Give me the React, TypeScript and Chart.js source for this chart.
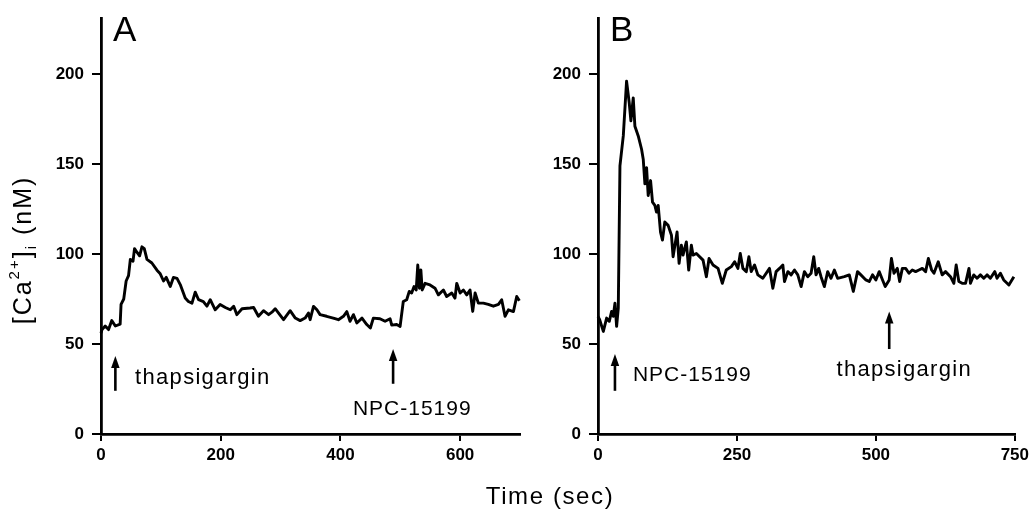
import React, { useEffect, useRef } from "react";
import { Chart, registerables } from "chart.js";

Chart.register(...registerables);

// ---------- data ----------
const timeA = [0, 1.7, 7, 12.6, 18, 24, 32, 33.5, 38, 42, 46, 49, 53.5, 56, 60, 64.5, 68.4, 72.3, 76.8, 85, 93.5, 99, 104.5, 109, 115.7, 121, 127, 132.4, 140.7, 146, 152, 157.4, 163, 171, 177, 182.5, 190.8, 199, 207.7, 216, 221.7, 227, 235.6, 249, 255, 263, 271.5, 280, 285.6, 291, 296.7, 305, 316, 324.6, 332.7, 341, 346.6, 349.4, 355, 360.7, 366, 377, 388, 396.6, 405, 410.7, 416, 421.7, 427.4, 436, 444, 450, 455, 466, 474.6, 483, 485.7, 494, 499.7, 505, 510.7, 515, 519, 523, 526.6, 529.2, 532, 534.4, 536.6, 541.4, 549.7, 558, 563.6, 572, 577.5, 586, 591.4, 594.3, 600, 605.4, 611, 616.5, 621, 625, 630.4, 638.8, 647, 655.5, 664, 669.4, 675, 680.6, 689, 694.5, 699];
const caA = [56, 58, 60, 58, 63, 60, 61, 72, 75, 85, 88, 97, 96, 103, 101, 99, 104, 103, 97, 95, 91, 89, 85, 87, 82, 87, 86.5, 83, 75.5, 73.6, 72.7, 78.8, 74.6, 73.6, 71, 74.6, 69, 72, 70.3, 69, 71, 66.3, 69.6, 70, 70.3, 65.4, 68.5, 66.3, 67.7, 69.6, 67.2, 63.5, 68.5, 64.4, 63, 64.4, 67.2, 63.5, 70.9, 69, 66.3, 65.4, 64.4, 63.5, 65.4, 68, 62.6, 66.3, 61.7, 64.4, 60.8, 58.9, 64.4, 64, 62.6, 64, 60.5, 60.8, 59.8, 73.6, 74.6, 79.2, 78.3, 81.9, 80, 93.9, 81, 91.1, 80, 83.7, 82.8, 81, 77.3, 80, 76.4, 78.3, 75.5, 83.7, 78.3, 80, 77.3, 80, 68.1, 78.3, 72.7, 72.7, 72, 71, 72, 74.6, 65.4, 69, 68, 76.4, 74];

const timeB = [0, 3, 9.6, 15.5, 20.3, 24.5, 27.5, 30.5, 33.5, 36.5, 39.5, 45.5, 51.4, 56.2, 59.2, 63.4, 66.4, 72.4, 78.4, 81.4, 84.4, 87.4, 90.3, 94.6, 98.1, 102.3, 105.3, 108.3, 112.5, 116, 120.2, 126.2, 132.2, 135.1, 139.9, 142.3, 145.9, 150, 153, 159, 163.2, 168, 171, 177, 189, 195, 199.8, 207, 216, 223.7, 230.8, 239.9, 245.8, 251.8, 256, 260.8, 266.8, 271.5, 275.7, 281.7, 287.6, 296.6, 308.6, 314.6, 320.5, 326.6, 332.6, 335.6, 341.6, 347.5, 353.5, 359.5, 365.5, 371.4, 377.4, 383.4, 388.2, 392.3, 397.1, 401.3, 407.3, 413.3, 419.3, 425.3, 431.2, 443.2, 452.2, 459.4, 467, 473, 482, 488, 494, 500, 506, 512, 516.8, 524, 528, 532.6, 538.6, 542.8, 547.6, 553.6, 559.5, 565.5, 571.5, 577.5, 583.5, 589.5, 594.4, 600.3, 604.5, 612.2, 619.3, 625.3, 634.3, 640.3, 644.5, 649.3, 655.3, 661.3, 667.5, 670.2, 676.2, 682.1, 688.1, 694.1, 700, 706, 714, 718, 724, 730, 739.3, 748.3];
const caB = [65.4, 63.5, 57, 64.4, 62.6, 68.1, 65.4, 72.7, 59.8, 70, 149, 165.6, 196, 184, 174, 186.7, 171, 165.6, 158.2, 152.7, 139, 148, 132.5, 140.8, 128.8, 127, 123.3, 127, 112.2, 107.7, 117.8, 115.9, 110.4, 98.5, 107.7, 112.2, 94.8, 104.9, 99.4, 106.7, 91.1, 104.9, 99.4, 100.3, 96.6, 87.4, 97.5, 93.9, 92, 83.7, 91.1, 93, 95.7, 92, 100.3, 92, 90.2, 98.5, 90.2, 93.9, 88.4, 86.5, 92, 81, 90.2, 92, 93.9, 84.7, 90.2, 88.4, 91.1, 88.4, 81.9, 90.2, 87.4, 89.3, 98.5, 88.4, 92, 87.4, 81.9, 90.2, 86.5, 91.1, 86.5, 87.4, 88.4, 79.2, 90.2, 88.4, 85.6, 84.7, 88.4, 85.6, 90.2, 85.6, 81.9, 85.6, 97.5, 89.3, 92, 84.7, 92, 92, 89.3, 91.1, 90.2, 91.1, 92, 90.2, 97.5, 91.1, 89.3, 95.7, 88.4, 90.2, 87.4, 83.7, 93.9, 84.7, 83.7, 83.7, 92, 83.7, 88.4, 86.5, 88.4, 86.5, 88.4, 86.5, 90.2, 86.5, 89.3, 85.6, 82.8, 87.4];

const xTicksA = [0, 200, 400, 600];
const xTicksB = [0, 250, 500, 750];
const yTicks = [0, 50, 100, 150, 200];
const xMaxA = 700;
const xMaxB = 750;
const yMax = 231;

// annotations: arrow at time x, spanning Ca values from..to ; labels
const arrowsA = [
  { x: 24, from: 24, to: 43.3 },
  { x: 488, from: 27.9, to: 47.2 },
];
const labelsA = [
  { text: "thapsigargin", x: 57, y: 27.9, align: "left" as CanvasTextAlign, size: 22, spacing: 1.3 },
  { text: "NPC-15199", x: 520, y: 10.5, align: "center" as CanvasTextAlign, size: 21, spacing: 1 },
];
const arrowsB = [
  { x: 30.5, from: 24, to: 44.4 },
  { x: 524, from: 47.2, to: 68.1 },
];
const labelsB = [
  { text: "NPC-15199", x: 62.8, y: 29.5, align: "left" as CanvasTextAlign, size: 21, spacing: 1 },
  { text: "thapsigargin", x: 551, y: 32.3, align: "center" as CanvasTextAlign, size: 22, spacing: 1.3 },
];

const FONT = "'Liberation Sans', Arial, Helvetica, sans-serif";

function drawArrow(ctx: CanvasRenderingContext2D, x: number, yBottom: number, yTop: number) {
  const headH = 12;
  const headW = 8.5;
  ctx.save();
  ctx.strokeStyle = "#000";
  ctx.fillStyle = "#000";
  ctx.lineWidth = 2.6;
  ctx.beginPath();
  ctx.moveTo(x, yBottom);
  ctx.lineTo(x, yTop + headH - 1);
  ctx.stroke();
  ctx.beginPath();
  ctx.moveTo(x, yTop);
  ctx.lineTo(x - headW / 2, yTop + headH);
  ctx.lineTo(x + headW / 2, yTop + headH);
  ctx.closePath();
  ctx.fill();
  ctx.restore();
}

function makePanelPlugin(
  id: string,
  letter: string,
  arrows: { x: number; from: number; to: number }[],
  labels: { text: string; x: number; y: number; align: CanvasTextAlign; size: number; spacing: number }[],
  global: boolean
) {
  return {
    id,
    afterDraw(chart: any) {
      const ctx: CanvasRenderingContext2D = chart.ctx;
      const xs = chart.scales.x;
      const ys = chart.scales.y;
      const area = chart.chartArea;
      ctx.save();
      ctx.fillStyle = "#000";
      ctx.textBaseline = "alphabetic";
      // panel letter
      ctx.font = `35px ${FONT}`;
      ctx.textAlign = "left";
      ctx.fillText(letter, area.left + 12, area.top + 23);
      // arrows
      arrows.forEach((a) => {
        drawArrow(ctx, xs.getPixelForValue(a.x), ys.getPixelForValue(a.from), ys.getPixelForValue(a.to));
      });
      // labels
      labels.forEach((l) => {
        ctx.font = `${l.size}px ${FONT}`;
        (ctx as any).letterSpacing = `${l.spacing}px`;
        ctx.textAlign = l.align;
        ctx.fillText(l.text, xs.getPixelForValue(l.x), ys.getPixelForValue(l.y));
      });
      (ctx as any).letterSpacing = "0px";
      if (global) {
        // y-axis title with super/subscripts
        ctx.save();
        const cy = (ys.getPixelForValue(yTicks[1]) + ys.getPixelForValue(yTicks[4])) / 2 + 41;
        ctx.translate(31, cy);
        ctx.rotate(-Math.PI / 2);
        (ctx as any).letterSpacing = "2px";
        const big = `25px ${FONT}`;
        const small = `15px ${FONT}`;
        const parts = [
          { t: "[Ca", f: big, dy: 0 },
          { t: "2+", f: small, dy: -12 },
          { t: "]", f: big, dy: 0 },
          { t: "i", f: small, dy: 5 },
          { t: " (nM)", f: big, dy: 0 },
        ];
        let total = 0;
        parts.forEach((p) => {
          ctx.font = p.f;
          total += ctx.measureText(p.t).width;
        });
        let x = -total / 2;
        ctx.textAlign = "left";
        parts.forEach((p) => {
          ctx.font = p.f;
          ctx.fillText(p.t, x, p.dy);
          x += ctx.measureText(p.t).width;
        });
        ctx.restore();
        // x title
        ctx.font = `24px ${FONT}`;
        (ctx as any).letterSpacing = "1.6px";
        ctx.textAlign = "center";
        ctx.fillText("Time (sec)", 550, 504);
        (ctx as any).letterSpacing = "0px";
      }
      ctx.restore();
    },
  };
}

function makeConfig(
  times: number[],
  values: number[],
  xMax: number,
  xTicks: number[],
  padding: { left: number; right: number; top: number; bottom: number },
  yWidth: number,
  plugin: any
): any {
  const tickFont = { family: FONT, size: 17, weight: "bold" as const };
  return {
    type: "line",
    data: {
      datasets: [
        {
          data: times.map((t, i) => ({ x: t, y: values[i] })),
          borderColor: "#000",
          borderWidth: 2.9,
          pointRadius: 0,
          tension: 0,
          fill: false,
          borderJoinStyle: "round",
          clip: false,
        },
      ],
    },
    options: {
      responsive: false,
      maintainAspectRatio: false,
      animation: false,
      layout: { padding },
      plugins: { legend: { display: false }, tooltip: { enabled: false } },
      scales: {
        x: {
          type: "linear",
          min: 0,
          max: xMax,
          afterBuildTicks: (s: any) => {
            s.ticks = xTicks.map((v) => ({ value: v }));
          },
          afterFit: (s: any) => {
            s.height = 79;
          },
          grid: {
            display: true,
            drawOnChartArea: false,
            drawTicks: true,
            tickLength: 7,
            color: "#000",
            lineWidth: 2,
          },
          border: { display: true, color: "#000", width: 2.8 },
          ticks: {
            color: "#000",
            font: tickFont,
            padding: 4,
            maxRotation: 0,
            autoSkip: false,
          },
        },
        y: {
          type: "linear",
          min: 0,
          max: yMax,
          afterBuildTicks: (s: any) => {
            s.ticks = yTicks.map((v) => ({ value: v }));
          },
          afterFit: (s: any) => {
            s.width = yWidth;
          },
          grid: {
            display: true,
            drawOnChartArea: false,
            drawTicks: true,
            tickLength: 9,
            color: "#000",
            lineWidth: 2,
          },
          border: { display: true, color: "#000", width: 2.8 },
          ticks: {
            color: "#000",
            font: tickFont,
            padding: 8,
            autoSkip: false,
          },
        },
      },
    },
    plugins: [plugin],
  };
}

export default function App() {
  const refA = useRef<HTMLCanvasElement>(null);
  const refB = useRef<HTMLCanvasElement>(null);

  useEffect(() => {
    if (!refA.current || !refB.current) return;
    const chartA = new Chart(
      refA.current,
      makeConfig(
        timeA,
        caA,
        xMaxA,
        xTicksA,
        { left: 0, right: 513, top: 15, bottom: 0 },
        101,
        makePanelPlugin("panelA", "A", arrowsA, labelsA, true)
      )
    );
    const chartB = new Chart(
      refB.current,
      makeConfig(
        timeB,
        caB,
        xMaxB,
        xTicksB,
        { left: 538, right: 17, top: 15, bottom: 0 },
        60,
        makePanelPlugin("panelB", "B", arrowsB, labelsB, false)
      )
    );
    return () => {
      chartA.destroy();
      chartB.destroy();
    };
  }, []);

  const canvasStyle: React.CSSProperties = {
    position: "absolute",
    left: 0,
    top: 0,
    width: 1033,
    height: 513,
  };

  return (
    <div
      style={{
        position: "absolute",
        left: 0,
        top: 0,
        width: 1033,
        height: 513,
        background: "#fff",
      }}
    >
      <canvas ref={refA} width={1033} height={513} style={canvasStyle} />
      <canvas ref={refB} width={1033} height={513} style={canvasStyle} />
    </div>
  );
}
